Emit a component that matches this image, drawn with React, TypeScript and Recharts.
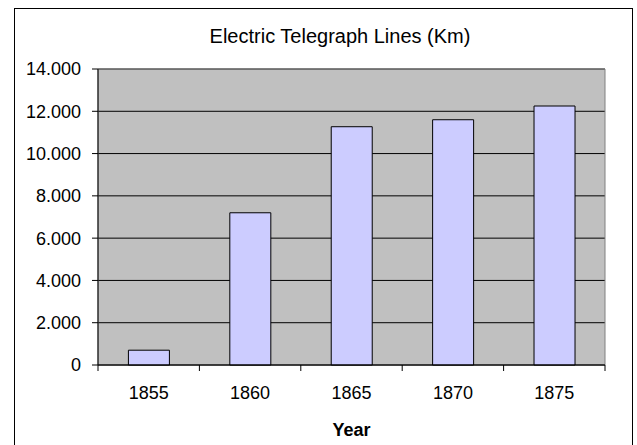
import { BarChart, Bar, XAxis, YAxis, CartesianGrid, ReferenceArea } from "recharts";

const years = ["1855", "1860", "1865", "1870", "1875"];
const km = [700, 7200, 11270, 11600, 12250];
const yTicks = [0, 2000, 4000, 6000, 8000, 10000, 12000, 14000];

const data = years.map((year, i) => ({ year, km: km[i] }));

const FONT = "'Liberation Sans', Arial, sans-serif";

// formato europeu: 14000 -> "14.000"
const fmt = (v: number) => (v === 0 ? "0" : (v / 1000).toFixed(3));

// tick do eixo X: linha nas bordas da categoria, texto no centro
function YearTick(props: any) {
  const { x, y, payload, index, visibleTicksCount } = props;
  const half = payload.offset || 0;
  const last = index === visibleTicksCount - 1;
  return (
    <g>
      <line x1={x - half} x2={x - half} y1={y - 8} y2={y - 2} stroke="#000" />
      {last && <line x1={x + half} x2={x + half} y1={y - 8} y2={y - 2} stroke="#000" />}
      <text x={x} y={y + 26} textAnchor="middle" fill="#000" fontSize={18} fontFamily={FONT}>
        {payload.value}
      </text>
    </g>
  );
}

export default function App() {
  return (
    <div style={{ position: "absolute", left: 0, top: 0, width: 637, height: 445, overflow: "hidden", background: "#fff" }}>
      <div
        style={{
          position: "absolute",
          left: 14,
          top: 8,
          width: 619,
          height: 460,
          border: "1.5px solid #000",
          boxSizing: "border-box",
        }}
      />
      <div
        style={{
          position: "absolute",
          left: 0,
          width: 680,
          top: 24,
          textAlign: "center",
          fontFamily: FONT,
          fontSize: 20,
          lineHeight: "24px",
          color: "#000",
        }}
      >
        Electric Telegraph Lines (Km)
      </div>
      <div
        style={{
          position: "absolute",
          left: 0,
          width: 703,
          top: 419,
          textAlign: "center",
          fontFamily: FONT,
          fontSize: 18,
          fontWeight: "bold",
          lineHeight: "22px",
          color: "#000",
        }}
      >
        Year
      </div>
      <div style={{ position: "absolute", left: 0, top: 0 }}>
        <BarChart
          width={637}
          height={445}
          data={data}
          margin={{ top: 69, right: 32, bottom: 50, left: 0 }}
          barCategoryGap="30%"
        >
          <CartesianGrid vertical={false} stroke="#000" fill="#C0C0C0" fillOpacity={1} />
          <ReferenceArea y1={0} y2={14000} fill="none" stroke="#808080" ifOverflow="extendDomain" />
          <XAxis
            dataKey="year"
            height={30}
            axisLine={{ stroke: "#000" }}
            tickLine={false}
            tick={<YearTick />}
            interval={0}
          />
          <YAxis
            width={98}
            domain={[0, 14000]}
            ticks={yTicks}
            tickFormatter={fmt}
            axisLine={{ stroke: "#000" }}
            tickLine={{ stroke: "#000" }}
            tickSize={6}
            tickMargin={11}
            tick={{ fill: "#000", fontSize: 18, fontFamily: FONT }}
            interval={0}
          />
          <Bar dataKey="km" fill="#CCCCFF" stroke="#000" strokeWidth={1} isAnimationActive={false} />
        </BarChart>
      </div>
    </div>
  );
}
